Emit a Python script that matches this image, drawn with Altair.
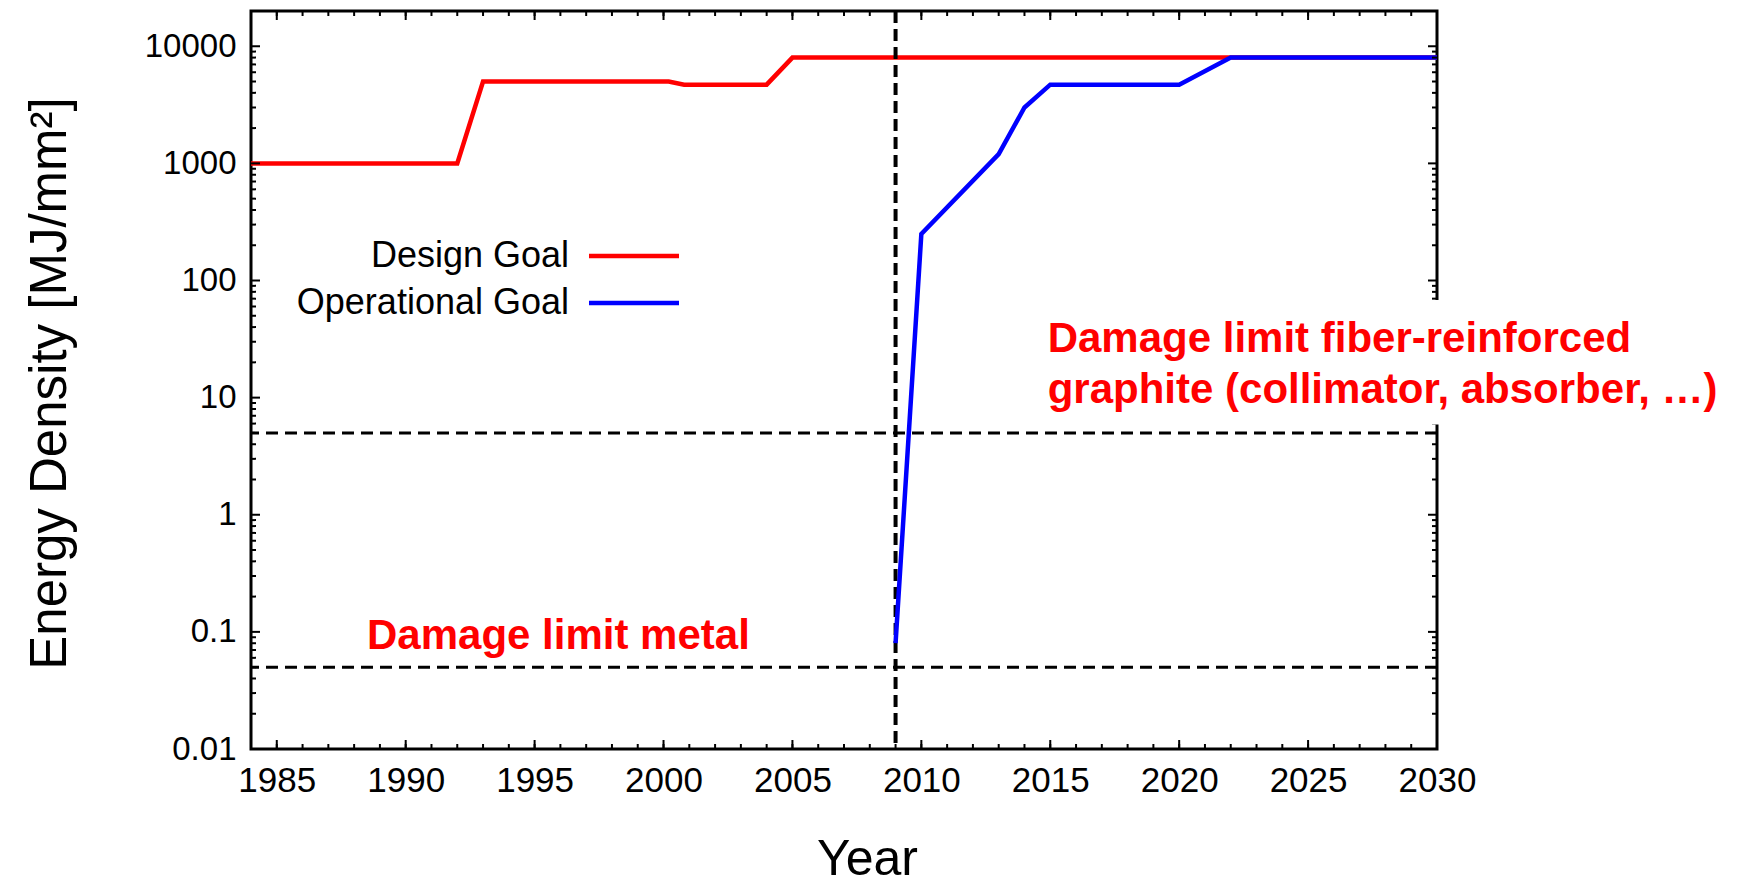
import altair as alt
import pandas as pd

# ---- data ----
design_years = [1984, 1992, 1993, 2000.2, 2000.8, 2004, 2005, 2030]
design_values = [1000, 1000, 5000, 5000, 4700, 4700, 8000, 8000]
oper_years = [2009, 2010, 2013, 2014, 2015, 2020, 2022, 2030]
oper_values = [0.08, 250, 1200, 3000, 4700, 4700, 8000, 8000]
series_names = ["Design Goal", "Operational Goal"]
series_colors = ["#ff0000", "#0000ff"]
limit_values = [0.05, 5]
lhc_start = [2009]
x_major_ticks = [1985, 1990, 1995, 2000, 2005, 2010, 2015, 2020, 2025, 2030]
x_minor_ticks = list(range(1985, 2030))
y_major_ticks = [0.01, 0.1, 1, 10, 100, 1000, 10000]
y_minor_ticks = [m * 10.0 ** k for k in range(-2, 5) for m in range(2, 10) if m * 10.0 ** k < 20000]
metal_label = "Damage limit metal"
graphite_label_1 = "Damage limit fiber-reinforced"
graphite_label_2 = "graphite (collimator, absorber, \u2026)"

W, H = 1186, 738
FONT = "Liberation Sans"

xscale = alt.Scale(domain=[1984, 2030], nice=False, zero=False)
yscale = alt.Scale(type="log", domain=[0.01, 20000], nice=False)

design_df = pd.DataFrame({"year": design_years, "value": design_values, "series": series_names[0]})
oper_df = pd.DataFrame({"year": oper_years, "value": oper_values, "series": series_names[1]})

xaxis = alt.Axis(values=x_major_ticks, format="d", labelFont=FONT, labelFontSize=35,
                 labelColor="black", domain=False, ticks=False, tickSize=0, grid=False,
                 labelPadding=14, title="Year", titleFont=FONT, titleFontSize=50,
                 titleFontWeight="normal", titleColor="black", titleX=616, titleY=125,
                 titleBaseline="alphabetic", titleAlign="center", labelFlush=False)
yaxis = alt.Axis(values=y_major_ticks, format=".2~f", labelFont=FONT, labelFontSize=33,
                 labelColor="black", domain=False, ticks=False, tickSize=0, grid=False,
                 labelPadding=15, title="Energy Density [MJ/mm\u00b2]", titleFont=FONT,
                 titleFontSize=51, titleFontWeight="normal", titleColor="black",
                 titleX=-186, titleY=372, titleBaseline="alphabetic", titleAlign="center",
                 titleAngle=270, labelFlush=False)

base_lines = alt.Chart(design_df).mark_line(strokeWidth=4.5, color=series_colors[0]).encode(
    x=alt.X("year:Q", scale=xscale, axis=xaxis),
    y=alt.Y("value:Q", scale=yscale, axis=yaxis),
)
oper_line = alt.Chart(oper_df).mark_line(strokeWidth=4.5, color=series_colors[1]).encode(
    x=alt.X("year:Q", scale=xscale),
    y=alt.Y("value:Q", scale=yscale),
)

limits = alt.Chart(pd.DataFrame({"value": limit_values})).mark_rule(
    color="black", strokeWidth=3, strokeDash=[12, 7]).encode(
    y=alt.Y("value:Q", scale=yscale))
vline = alt.Chart(pd.DataFrame({"year": lhc_start})).mark_rule(
    color="black", strokeWidth=4, strokeDash=[12, 6]).encode(
    x=alt.X("year:Q", scale=xscale))

xmaj = pd.DataFrame({"year": x_major_ticks})
xmin = pd.DataFrame({"year": x_minor_ticks})
ymaj = pd.DataFrame({"value": y_major_ticks})
ymin = pd.DataFrame({"value": y_minor_ticks})

def xticks(df, length):
    b = alt.Chart(df).mark_rule(color="black", strokeWidth=2).encode(
        x=alt.X("year:Q", scale=xscale), y=alt.value(H), y2=alt.value(H - length))
    t = alt.Chart(df).mark_rule(color="black", strokeWidth=2).encode(
        x=alt.X("year:Q", scale=xscale), y=alt.value(0), y2=alt.value(length))
    return [b, t]

def yticks(df, length):
    l = alt.Chart(df).mark_rule(color="black", strokeWidth=2).encode(
        y=alt.Y("value:Q", scale=yscale), x=alt.value(0), x2=alt.value(length))
    r = alt.Chart(df).mark_rule(color="black", strokeWidth=2).encode(
        y=alt.Y("value:Q", scale=yscale), x=alt.value(W), x2=alt.value(W - length))
    return [l, r]

ticks = xticks(xmaj, 9) + xticks(xmin, 5) + yticks(ymaj, 9) + yticks(ymin, 5)

# white background behind the graphite annotation (covers the frame)
box = alt.Chart(pd.DataFrame({"a": [0]})).mark_rect(color="white").encode(
    x=alt.datum(2014.6), x2=alt.datum(2041.6), y=alt.datum(68), y2=alt.datum(5.9))

ann_style = dict(align="left", baseline="alphabetic", font=FONT, fontWeight="bold",
                 fontSize=42, color="#ff0000")
metal_text = alt.Chart(pd.DataFrame({"a": [0]})).mark_text(**ann_style).encode(
    x=alt.datum(1988.5), y=alt.datum(0.072), text=alt.value(metal_label))
graph_text1 = alt.Chart(pd.DataFrame({"a": [0]})).mark_text(**ann_style).encode(
    x=alt.datum(2014.9), y=alt.datum(24.4), text=alt.value(graphite_label_1))
graph_text2 = alt.Chart(pd.DataFrame({"a": [0]})).mark_text(**ann_style).encode(
    x=alt.datum(2014.9), y=alt.datum(9.06), text=alt.value(graphite_label_2))

# legend (key) drawn by hand, gnuplot style: label then line sample
legend_layers = []
for i, (name, col) in enumerate(zip(series_names, series_colors)):
    ypix = 245 + 47 * i
    legend_layers.append(
        alt.Chart(pd.DataFrame({"a": [0]})).mark_text(
            align="right", baseline="middle", font=FONT, fontSize=36, color="black").encode(
            x=alt.value(318), y=alt.value(ypix), text=alt.value(name)))
    legend_layers.append(
        alt.Chart(pd.DataFrame({"a": [0]})).mark_rule(color=col, strokeWidth=4.5).encode(
            x=alt.value(338), x2=alt.value(428), y=alt.value(ypix)))

chart = alt.layer(
    base_lines, limits, vline, oper_line, *ticks, box, metal_text, graph_text1, graph_text2,
    *legend_layers
).properties(
    width=W, height=H,
    padding={"left": 243, "top": 3, "right": 290, "bottom": 136},
    autosize=alt.AutoSizeParams(type="none"),
    background="white",
).configure_view(stroke="black", strokeWidth=3, strokeOpacity=1)

chart.save("out.html", embed_options={"renderer": "svg", "actions": False})
